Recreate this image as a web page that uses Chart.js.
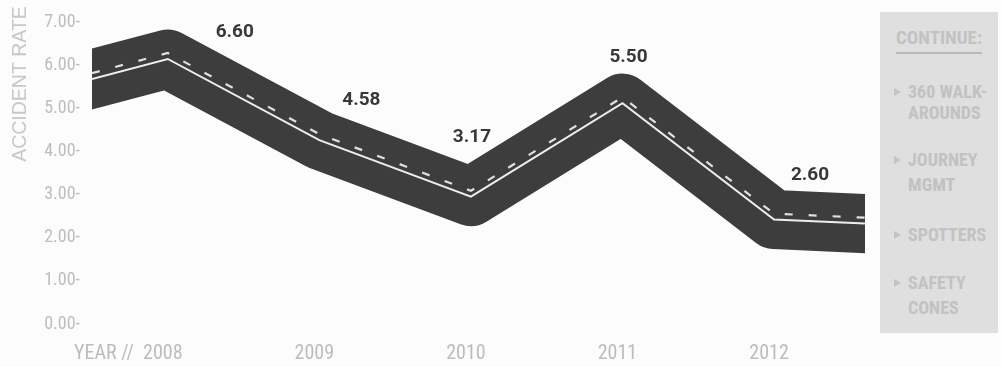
<!DOCTYPE html>
<html>
<head>
<meta charset="utf-8">
<script src="https://cdn.jsdelivr.net/npm/chart.js@4/dist/chart.umd.min.js"></script>
<style>
html,body{margin:0;padding:0;background:#fcfcfc;}
#wrap{position:relative;width:1001px;height:367px;overflow:hidden;background:#fcfcfc;}
#c{position:absolute;left:0;top:0;}
#panel{position:absolute;left:880px;top:12px;width:118px;height:321px;background:#dfdfdf;
  font-family:"Roboto Condensed","Roboto",sans-serif;font-stretch:condensed;font-weight:bold;color:#c2c2c2;}
#panel .ln{position:absolute;left:28px;height:20px;line-height:20px;font-size:18px;white-space:nowrap;}
#panel .hd{left:16px;font-size:19px;}
#panel .tri{position:absolute;left:14px;width:0;height:0;border-top:4px solid transparent;border-bottom:4px solid transparent;border-left:7px solid #c4c4c4;}
#panel .rule{position:absolute;left:16px;top:40px;width:86px;height:2px;background:#b8b8b8;}
</style>
</head>
<body>
<div id="wrap">
<canvas id="c" width="1001" height="367"></canvas>
<div id="panel">
  <div class="ln hd" style="top:16px">CONTINUE:</div>
  <div class="rule"></div>
  <div class="tri" style="top:76px"></div>
  <div class="ln" style="top:70px">360 WALK-</div>
  <div class="ln" style="top:91px">AROUNDS</div>
  <div class="tri" style="top:144px"></div>
  <div class="ln" style="top:138px">JOURNEY</div>
  <div class="ln" style="top:163px">MGMT</div>
  <div class="tri" style="top:219px"></div>
  <div class="ln" style="top:213px">SPOTTERS</div>
  <div class="tri" style="top:267px"></div>
  <div class="ln" style="top:261px">SAFETY</div>
  <div class="ln" style="top:286px">CONES</div>
</div>
</div>
<script>
// ---- data ----
const years = ['2008', '2009', '2010', '2011', '2012'];
const accidentRate = [6.60, 4.58, 3.17, 5.50, 2.60];
const yTickValues = [0, 1, 2, 3, 4, 5, 6, 7];
// road runs in from the left edge and out to the right edge
const roadEndX = [-0.5, 4.6];
const roadEndRate = [6.10, 2.50];

// ---- styling ----
const labelDx = [67, 42, 1, 6, 36];
const labelDy = [-27, -40, -59, -46, -44];
const condensed = '"Roboto Condensed","DejaVu Sans Condensed",sans-serif';

const roadPoints = [{x: roadEndX[0], y: roadEndRate[0]}]
  .concat(accidentRate.map((v, i) => ({x: i, y: v})))
  .concat([{x: roadEndX[1], y: roadEndRate[1]}]);

const clipBox = {left: 0, right: 0, top: 200, bottom: 200};

const extrasPlugin = {
  id: 'extras',
  afterDatasetsDraw(chart) {
    const ctx = chart.ctx;
    const meta = chart.getDatasetMeta(2); // road
    ctx.save();
    ctx.font = 'bold 19px Roboto, "Liberation Sans", sans-serif';
    ctx.fillStyle = '#383838';
    ctx.textAlign = 'center';
    ctx.textBaseline = 'middle';
    accidentRate.forEach((v, i) => {
      const pt = meta.data[i + 1];
      ctx.fillText(v.toFixed(2), pt.x + labelDx[i], pt.y + labelDy[i]);
    });
    ctx.restore();
  },
  afterDraw(chart) {
    const ctx = chart.ctx;
    // y axis title
    ctx.save();
    ctx.translate(21, 84);
    ctx.rotate(-Math.PI / 2);
    ctx.font = '19.5px "Liberation Sans", Arial, sans-serif';
    ctx.fillStyle = '#c8c8c8';
    ctx.textAlign = 'center';
    ctx.textBaseline = 'middle';
    ctx.fillText('ACCIDENT RATE', 0, 0);
    ctx.restore();
    // "YEAR //" prefix before first year label
    const xs = chart.scales.x;
    const items = xs.getLabelItems ? xs.getLabelItems() : null;
    if (items && items.length) {
      const it = items[0];
      const [tx, ty] = it.options.translation;
      ctx.save();
      ctx.font = it.font.string;
      ctx.fillStyle = '#bcbcbc';
      ctx.textBaseline = it.options.textBaseline;
      ctx.textAlign = 'right';
      const w = ctx.measureText(String(it.label)).width;
      ctx.fillText('YEAR //  ', tx - w / 2, ty + (it.textOffset || 0));
      ctx.restore();
    }
  }
};

new Chart(document.getElementById('c'), {
  type: 'line',
  data: {
    datasets: [
      {
        label: 'center line',
        data: roadPoints,
        yAxisID: 'yRoad',
        borderColor: '#eeeeee',
        borderWidth: 2,
        pointRadius: 0,
        tension: 0,
        borderJoinStyle: 'miter',
        clip: clipBox
      },
      {
        label: 'dashed line',
        data: roadPoints,
        yAxisID: 'yDash',
        borderColor: '#e0e0e0',
        borderWidth: 2.2,
        borderDash: [8, 16],
        pointRadius: 0,
        tension: 0,
        clip: clipBox
      },
      {
        label: 'road',
        data: roadPoints,
        yAxisID: 'yRoad',
        borderColor: '#3d3d3d',
        borderWidth: 59,
        borderJoinStyle: 'round',
        borderCapStyle: 'square',
        pointRadius: 0,
        tension: 0,
        clip: clipBox
      }
    ]
  },
  options: {
    responsive: false,
    animation: false,
    layout: {padding: {top: 17, left: 0, right: 136, bottom: 0}},
    plugins: {legend: {display: false}, tooltip: {enabled: false}},
    scales: {
      x: {
        type: 'linear',
        min: roadEndX[0],
        max: roadEndX[1],
        afterBuildTicks: s => { s.ticks = years.map((_, i) => ({value: i})); },
        afterFit: s => { s.height = 43; },
        ticks: {
          callback: v => years[v],
          color: '#bcbcbc',
          font: {family: condensed, size: 20},
          padding: 18,
          labelOffset: -5,
          maxRotation: 0,
          autoSkip: false
        },
        grid: {display: false, drawTicks: false},
        border: {display: false}
      },
      y: {
        min: 0,
        max: 7,
        afterBuildTicks: s => { s.ticks = yTickValues.map(v => ({value: v})); },
        afterFit: s => { s.width = 92; },
        ticks: {
          callback: v => v.toFixed(2) + '-',
          color: '#bdbdbd',
          font: {family: condensed, size: 18},
          padding: 12
        },
        grid: {display: false, drawTicks: false},
        border: {display: false}
      },
      yRoad: {display: false, min: 0, max: 7.5},
      yDash: {display: false, min: -0.147, max: 7.353}
    }
  },
  plugins: [extrasPlugin]
});
</script>
</body>
</html>
